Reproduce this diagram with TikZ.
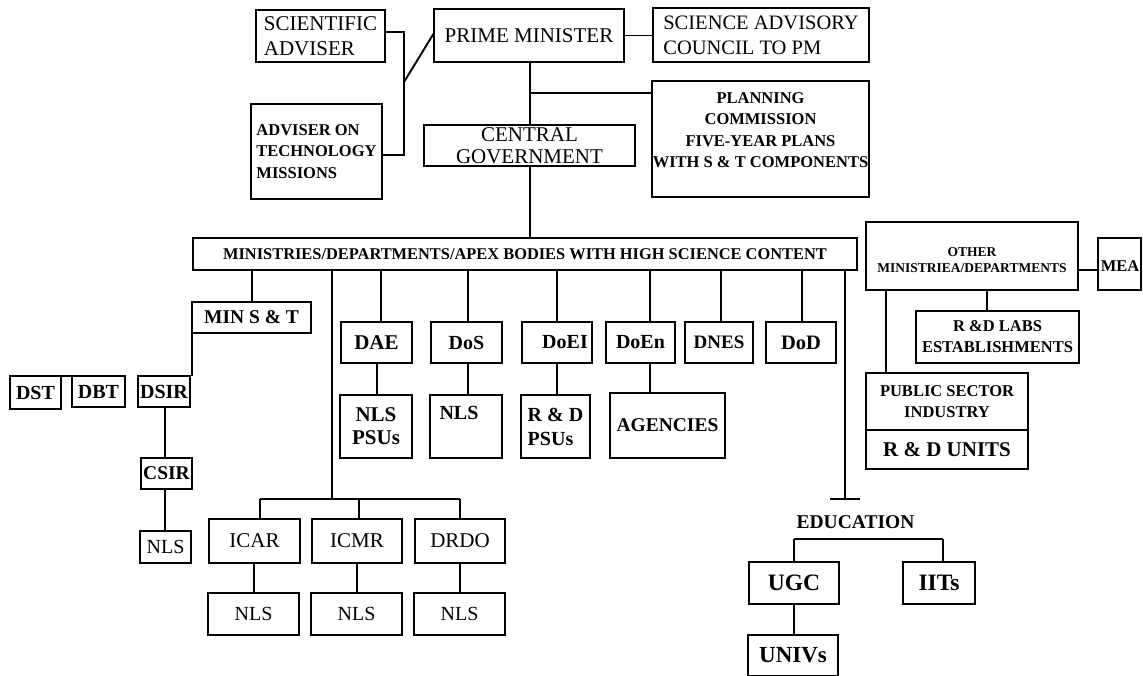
\documentclass[tikz,border=0pt]{standalone}
\usepackage{fontspec}
\setmainfont{Liberation Serif}
\begin{document}
\begin{tikzpicture}[x=1pt,y=-1pt,
  bx/.style={draw,line width=1.9pt,inner sep=0pt,outer sep=0pt,align=center},
  txt/.style={inner sep=0pt,align=center},
  ln/.style={line width=1.9pt},
  rg/.style 2 args={font=\fontsize{#1}{#2}\selectfont},
  bf/.style 2 args={font=\fontsize{#1}{#2}\selectfont\bfseries}]
\useasboundingbox[fill=white] (0,0) rectangle (1143,676);
% top
\node[bx,minimum width=129pt,minimum height=52pt,rg={21}{25},align=left] (sci) at (320.5,36) {SCIENTIFIC\\ADVISER};
\node[bx,minimum width=190pt,minimum height=53pt,rg={21}{25}] (pm) at (529,35.5) {PRIME MINISTER};
\node[bx,minimum width=216pt,minimum height=54pt,rg={20.5}{25},align=left] (sac) at (761,35) {SCIENCE ADVISORY\\COUNCIL TO PM};
\node[bx,minimum width=131pt,minimum height=95pt,bf={16.5}{21.5},align=left] (adv) at (316.5,151.5) {ADVISER ON\\TECHNOLOGY\\MISSIONS};
\node[bx,minimum width=211pt,minimum height=41pt,rg={21}{22.5}] (cg) at (529.5,145.5) {CENTRAL\\GOVERNMENT};
\node[bx,minimum width=217pt,minimum height=116pt] (plan) at (760.5,139) {};
\node[txt,bf={16.5}{21.5}] (plant) at (760.5,130) {PLANNING\\COMMISSION\\FIVE-YEAR PLANS\\WITH S \& T COMPONENTS};
% ministries
\node[bx,minimum width=664pt,minimum height=32pt,bf={16.4}{20}] (min) at (525,254) {MINISTRIES/DEPARTMENTS/APEX BODIES WITH HIGH SCIENCE CONTENT};
\node[bx,minimum width=119pt,minimum height=31pt,bf={19.5}{23}] (mst) at (251.5,317.5) {MIN S \& T};
\node[bx,minimum width=51pt,minimum height=33pt,bf={20}{24}] (dst) at (35.5,392.5) {DST};
\node[bx,minimum width=53pt,minimum height=31pt,bf={20}{24}] (dbt) at (98.5,391.5) {DBT};
\node[bx,minimum width=52pt,minimum height=31pt,bf={20}{24}] (dsir) at (164,391.5) {DSIR};
\node[bx,minimum width=51pt,minimum height=31pt,bf={19.5}{24}] (csir) at (166.5,473.5) {CSIR};
\node[bx,minimum width=51pt,minimum height=32pt,rg={20}{24}] (nlsl) at (165.5,547) {NLS};
\node[bx,minimum width=71pt,minimum height=41pt,bf={21}{24}] (dae) at (376.5,342.5) {DAE};
\node[bx,minimum width=72pt,minimum height=63pt,bf={21}{23}] (nlspsu) at (376,426.5) {NLS\\PSUs};
\node[bx,minimum width=71pt,minimum height=41pt,bf={20}{24}] (dos) at (466.5,342.5) {DoS};
\node[bx,minimum width=72pt,minimum height=63pt] (nlsd) at (466,426.5) {};
\node[txt,bf={20}{24}] (nlsdt) at (459,413) {NLS};
\node[bx,minimum width=70pt,minimum height=41pt] (doei) at (557,342.5) {};
\node[txt,bf={20}{24}] (doeit) at (565,342.5) {DoEI};
\node[bx,minimum width=69pt,minimum height=63pt,bf={20}{24},align=left] (rdpsu) at (555.5,426.5) {R \& D\\PSUs};
\node[bx,minimum width=69pt,minimum height=41pt,bf={20}{24}] (doen) at (640.5,342.5) {DoEn};
\node[bx,minimum width=115pt,minimum height=65pt,bf={19.5}{24}] (agen) at (667.5,425.5) {AGENCIES};
\node[bx,minimum width=68pt,minimum height=41pt,bf={19}{24}] (dnes) at (719,342.5) {DNES};
\node[bx,minimum width=70pt,minimum height=41pt,bf={20.5}{24}] (dod) at (801,342.5) {DoD};
% councils
\node[bx,minimum width=91pt,minimum height=44pt,rg={21}{24}] (icar) at (254.5,541) {ICAR};
\node[bx,minimum width=90pt,minimum height=44pt,rg={21}{24}] (icmr) at (357,541) {ICMR};
\node[bx,minimum width=90pt,minimum height=44pt,rg={21}{24}] (drdo) at (460,541) {DRDO};
\node[bx,minimum width=91pt,minimum height=42pt,rg={20}{24}] (nls1) at (253.5,614) {NLS};
\node[bx,minimum width=91pt,minimum height=42pt,rg={20}{24}] (nls2) at (356.5,614) {NLS};
\node[bx,minimum width=91pt,minimum height=42pt,rg={20}{24}] (nls3) at (459.5,614) {NLS};
% right side
\node[bx,minimum width=212pt,minimum height=68pt] (other) at (972,256) {};
\node[txt,bf={13.5}{16}] (othert) at (972,260.5) {OTHER\\MINISTRIEA/DEPARTMENTS};
\node[bx,minimum width=43pt,minimum height=52pt] (mea) at (1119.5,264) {};
\node[txt,bf={16.5}{20}] (meat) at (1120,266) {MEA};
\node[bx,minimum width=163pt,minimum height=52pt,bf={16.5}{21}] (rdlab) at (997.5,337) {R \&D LABS\\ESTABLISHMENTS};
\node[bx,minimum width=162pt,minimum height=57pt,bf={16.5}{20.5}] (pubt) at (947,401.5) {PUBLIC SECTOR\\INDUSTRY};
\node[bx,minimum width=162pt,minimum height=39pt,bf={21}{24}] (pubb) at (947,449.5) {R \& D UNITS};
\node[txt,bf={19.5}{24}] (edu) at (855.5,522.5) {EDUCATION};
\node[bx,minimum width=90pt,minimum height=42pt,bf={23.5}{26}] (ugc) at (794,583) {UGC};
\node[bx,minimum width=72pt,minimum height=42pt,bf={23.5}{26}] (iits) at (939,583) {IITs};
\node[bx,minimum width=90pt,minimum height=41pt,bf={23}{26}] (univ) at (793,655.5) {UNIVs};
% connectors
\coordinate (jt) at (404,32);
\coordinate (jb) at (404,155);
\coordinate (jd) at (404,82);
\coordinate (jpm) at (434,33);
\draw[ln] (sci.east |- jt) -- (jt) -- (jb) -- (adv.east |- jb);
\draw[ln] (jd) -- (pm.west |- jpm);
\draw[ln] (pm.east) -- (sac.west |- pm.east);
\coordinate (jc) at (530,100);
\draw[ln] (jc |- pm.south) -- (jc |- cg.north);
\coordinate (jp) at (530,93);
\draw[ln] (jp) -- (plan.west |- jp);
\draw[ln] (jc |- cg.south) -- (jc |- min.north);
\coordinate (jms) at (252,300);
\draw[ln] (jms |- mst.north) -- (jms |- min.south);
\draw[ln] (mst.south west) -- (mst.south west |- dsir.north);
\draw[ln] (dst.north east) -- (dbt.north west);
\coordinate (jds) at (165,300);
\draw[ln] (jds |- dsir.south) -- (jds |- csir.north);
\draw[ln] (jds |- csir.south) -- (jds |- nlsl.north);
\coordinate (jv) at (332,499);
\coordinate (jl) at (260,499);
\coordinate (jr) at (460,499);
\draw[ln] (jv |- min.south) -- (jv);
\draw[ln] (jl) -- (jr);
\draw[ln] (jl) -- (jl |- icar.north);
\coordinate (jcm) at (359,499);
\draw[ln] (jcm) -- (jcm |- icmr.north);
\draw[ln] (jr) -- (jr |- drdo.north);
\coordinate (ja) at (254,600);
\coordinate (jb2) at (357,600);
\draw[ln] (ja |- icar.south) -- (ja |- nls1.north);
\draw[ln] (jb2 |- icmr.south) -- (jb2 |- nls2.north);
\draw[ln] (jr |- drdo.south) -- (jr |- nls3.north);
\coordinate (jdae) at (381,300);
\coordinate (jdae2) at (377,300);
\draw[ln] (jdae |- min.south) -- (jdae |- dae.north);
\draw[ln] (jdae2 |- dae.south) -- (jdae2 |- nlspsu.north);
\coordinate (jdos) at (468,300);
\draw[ln] (jdos |- dos.north) -- (jdos |- min.south);
\draw[ln] (jdos |- dos.south) -- (jdos |- nlsd.north);
\coordinate (jdoei) at (557,300);
\draw[ln] (jdoei |- doei.north) -- (jdoei |- min.south);
\draw[ln] (jdoei |- doei.south) -- (jdoei |- rdpsu.north);
\coordinate (jen) at (650,300);
\draw[ln] (jen |- min.south) -- (jen |- doen.north);
\draw[ln] (jen |- doen.south) -- (jen |- agen.north);
\coordinate (jdn) at (721,300);
\draw[ln] (jdn |- dnes.north) -- (jdn |- min.south);
\coordinate (jdd) at (802,300);
\draw[ln] (jdd |- dod.north) -- (jdd |- min.south);
\coordinate (je) at (845,499);
\draw[ln] (je |- min.south) -- (je);
\draw[ln] ([xshift=-15pt]je) -- ([xshift=15pt]je);
\coordinate (ea) at (794,539);
\coordinate (eb) at (943,539);
\draw[ln] (ea) -- (eb);
\draw[ln] (ea) -- (ea |- ugc.north);
\draw[ln] (eb) -- (eb |- iits.north);
\draw[ln] (ea |- ugc.south) -- (ea |- univ.north);
\coordinate (jm) at (1088,270);
\draw[ln] (other.east |- jm) -- (mea.west |- jm);
\coordinate (jo1) at (987,300);
\draw[ln] (jo1 |- other.south) -- (jo1 |- rdlab.north);
\coordinate (jo2) at (886,300);
\draw[ln] (jo2 |- other.south) -- (jo2 |- pubt.north);
\end{tikzpicture}
\end{document}
